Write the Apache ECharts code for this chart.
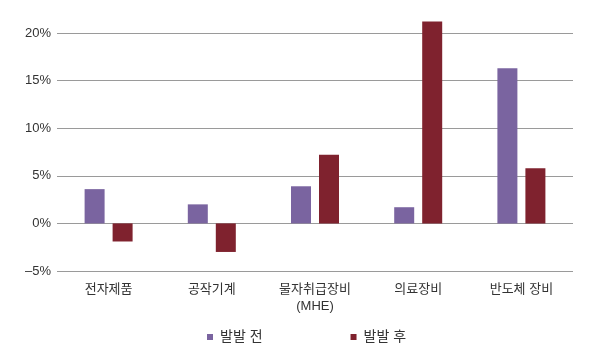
<!DOCTYPE html>
<html><head><meta charset="utf-8">
<script src="https://cdn.jsdelivr.net/npm/echarts@6/dist/echarts.min.js"></script>
<style>html,body{margin:0;padding:0;background:#fff}#c{width:600px;height:355px}</style>
</head><body><div id="c"></div>
<script>
const categories = ['전자제품', '공작기계', '물자취급장비\n(MHE)', '의료장비', '반도체 장비'];
const seriesNames = ['발발 전', '발발 후'];
const before = [3.6, 2.0, 3.9, 1.7, 16.3];
const after = [-1.9, -3.0, 7.2, 21.2, 5.8];
const yTicks = { min: -5, max: 20, interval: 5 };

const font = '"Liberation Sans", "Noto Sans CJK KR", sans-serif';
const chart = echarts.init(document.getElementById('c'));
chart.setOption({
  animation: false,
  backgroundColor: '#fff',
  textStyle: { fontFamily: font },
  grid: { left: 57, right: 27, top: 33, bottom: 84 },
  legend: {
    data: seriesNames,
    left: 202, top: 325,
    icon: 'rect', itemWidth: 6, itemHeight: 6, itemGap: 88,
    textStyle: { fontSize: 14, color: '#333', fontFamily: font, padding: [0, 0, 0, 2] }
  },
  xAxis: {
    type: 'category', data: categories,
    axisLine: { show: false }, axisTick: { show: false },
    axisLabel: { fontSize: 13, color: '#333', margin: 10, lineHeight: 17, fontFamily: font }
  },
  yAxis: {
    type: 'value', min: yTicks.min, max: yTicks.max, interval: yTicks.interval,
    axisLine: { show: false }, axisTick: { show: false },
    axisLabel: { fontSize: 13, color: '#333', margin: 6, fontFamily: font,
      formatter: v => (v < 0 ? '–' + Math.abs(v) : v) + '%' },
    splitLine: { lineStyle: { color: '#9a9a9a', width: 1 } }
  },
  series: [
    { name: seriesNames[0], type: 'bar', data: before, barWidth: 20, barGap: '40%',
      clip: false, itemStyle: { color: '#7a64a0' } },
    { name: seriesNames[1], type: 'bar', data: after, barWidth: 20,
      clip: false, itemStyle: { color: '#7f222e' } }
  ]
});
</script></body></html>
